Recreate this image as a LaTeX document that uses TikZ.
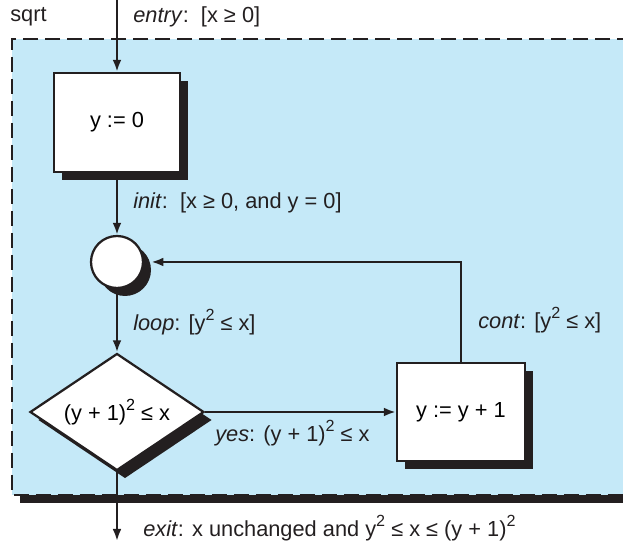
\documentclass[tikz,border=0pt]{standalone}
\usepackage{fontspec}
\setmainfont{Liberation Sans}
\usepackage{tikz}
\usetikzlibrary{arrows.meta, shapes, calc, positioning, shadows}
\usepackage{xcolor}
\definecolor{regionblue}{RGB}{197,233,248}
\definecolor{ink}{RGB}{35,31,32}
\newcommand{\sq}{\raisebox{0.45em}{\fontsize{11.5}{12}\selectfont 2}}

\begin{document}
\begin{tikzpicture}[
    font=\fontsize{15.5}{18}\selectfont,
    flow/.style={draw=ink, line width=1.6pt, fill=white,
      drop shadow={shadow xshift=0.2cm, shadow yshift=-0.2cm, fill=ink, opacity=1}},
    stmt/.style={flow, rectangle, minimum width=3.15cm, minimum height=2.475cm, inner sep=0pt},
    merge/.style={flow, circle, minimum size=1.3cm, inner sep=0pt},
    test/.style={flow, diamond, aspect=1.49, minimum width=4.35cm, minimum height=2.925cm, inner sep=0pt},
    link/.style={draw=ink, line width=1.6pt, -{Latex[length=3mm, width=2.2mm]}},
    lbl/.style={text=ink, inner sep=0pt, anchor=west}
  ]
  \useasboundingbox (0,0) rectangle (15.575,13.625);

  % region
  \fill[ink] (0.5,1.05) rectangle (15.8,12.45);
  \fill[regionblue] (0.3,1.25) rectangle (15.8,12.65);
  \draw[ink, line width=1.6pt, dash pattern=on 0.37cm off 0.18cm]
    (15.8,12.65) -- (0.3,12.65) -- (0.3,1.25) -- (15.8,1.25);
  \node[lbl] (name) at (0.25,13.2) {sqrt};

  % nodes
  \node[stmt] (init) at (2.925,10.5625) {y := 0};
  \node[merge] (loop) at (2.925,7.075) {};
  \node[test] (cond) at (2.925,3.325) {(y + 1)\sq{} ≤ x};
  \node[stmt, minimum width=3.2cm, minimum height=2.45cm] (incr) at (11.525,3.325) {y := y + 1};
  \coordinate (entry) at (2.925,13.625);
  \coordinate (exit) at (2.925,0.1);

  % connectors
  \draw[link] (entry) -- (init);
  \draw[link] (init) -- (loop);
  \draw[link] (loop) -- (cond);
  \draw[link] (cond.east) -- (incr.west);
  \draw[link] (incr.north) |- ($(loop.east)+(0.18,0)$);
  \draw[link] (cond.south) -- (exit);

  % labels
  \node[lbl] (entrylbl) at (3.325,13.2) {\textit{entry}:\ \ [x ≥ 0]};
  \node[lbl] (initlbl) at (3.325,8.55) {\textit{init}:\ \ [x ≥ 0, and y = 0]};
  \node[lbl] (looplbl) at (3.325,5.575) {\textit{loop}: [y\sq{} ≤ x]};
  \node[lbl] (contlbl) at (11.95,5.625) {\textit{cont}: [y\sq{} ≤ x]};
  \node[lbl] (yeslbl) at (5.375,2.8) {\textit{yes}: (y + 1)\sq{} ≤ x};
  \node[lbl] (exitlbl) at (3.575,0.425) {\textit{exit}: x unchanged and y\sq{} ≤ x ≤ (y + 1)\sq};
\end{tikzpicture}
\end{document}
